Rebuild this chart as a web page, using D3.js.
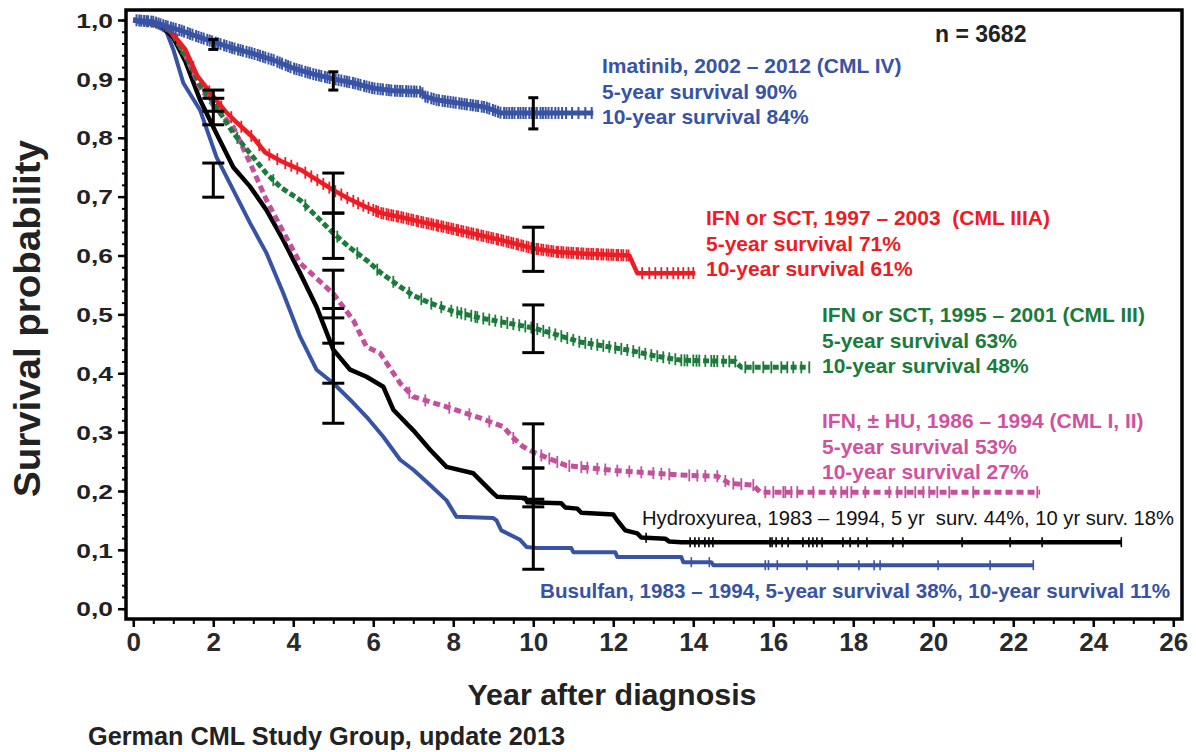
<!DOCTYPE html>
<html>
  <head>
    <meta charset="utf-8" />
    <title>CML survival</title>
    <script type="text/javascript" src="https://d3js.org/d3.v7.min.js"></script>
    <style>
      body { margin: 0; background: #fff; }
      text { font-family: "Liberation Sans", Arial, sans-serif; white-space: pre; }
    </style>
  </head>
  <body>
    <div id="chart"></div>
    <script>
// ---- data ----
const xTicks = [0, 2, 4, 6, 8, 10, 12, 14, 16, 18, 20, 22, 24, 26];
const yTicks = [0, 0.1, 0.2, 0.3, 0.4, 0.5, 0.6, 0.7, 0.8, 0.9, 1.0];

// [year, survival] points along each curve
const imatinib = [[0,1],[0.5,0.997],[0.8,0.99],[1.2,0.982],[1.6,0.972],[2,0.963],[2.5,0.952],[3,0.943],[3.5,0.932],[4,0.918],[4.5,0.908],[5,0.9],[5.5,0.893],[6,0.884],[6.5,0.88],[7.2,0.878],[7.3,0.87],[7.6,0.864],[8.2,0.858],[8.8,0.852],[9.2,0.842],[11.5,0.842]];
const ifnSct97 = [[0,1],[0.8,0.99],[1,0.975],[1.3,0.95],[1.6,0.905],[2,0.87],[2.3,0.845],[2.6,0.825],[3,0.8],[3.3,0.775],[3.7,0.76],[4.2,0.745],[4.6,0.728],[5,0.711],[5.4,0.696],[5.8,0.683],[6.2,0.672],[6.7,0.665],[7.2,0.657],[7.8,0.648],[8.5,0.637],[9.2,0.626],[10,0.612],[10.6,0.606],[11.3,0.603],[12.4,0.6],[12.5,0.585],[12.6,0.57],[14.05,0.57]];
const ifnSct95 = [[0,1],[0.8,0.99],[1,0.975],[1.3,0.94],[1.67,0.89],[2,0.86],[2.5,0.808],[2.9,0.775],[3.33,0.739],[3.7,0.715],[4.17,0.694],[4.6,0.665],[5,0.638],[5.4,0.614],[5.83,0.592],[6.2,0.57],[6.67,0.547],[7,0.532],[7.42,0.519],[8,0.505],[8.67,0.494],[9.3,0.486],[10,0.477],[10.6,0.465],[11.17,0.453],[11.8,0.446],[12.4,0.439],[13,0.43],[13.7,0.422],[15.05,0.42],[15.2,0.41],[16.9,0.41]];
const ifnHu = [[0,1],[0.8,0.99],[1,0.975],[1.3,0.94],[1.67,0.885],[2,0.855],[2.5,0.818],[2.9,0.76],[3.33,0.694],[3.75,0.64],[4.17,0.587],[4.6,0.56],[5,0.535],[5.5,0.49],[5.83,0.445],[6.17,0.434],[6.67,0.383],[7,0.36],[7.83,0.343],[8.67,0.324],[9.25,0.309],[9.5,0.29],[9.75,0.275],[10,0.266],[10.83,0.243],[12,0.235],[13.67,0.227],[14.6,0.225],[14.9,0.213],[15.5,0.21],[15.67,0.198],[22.67,0.198]];
const hydroxyurea = [[0,1],[0.7,0.99],[1,0.97],[1.3,0.93],[1.67,0.864],[2.08,0.807],[2.5,0.75],[2.92,0.717],[3.33,0.677],[3.75,0.626],[4.17,0.57],[4.58,0.513],[5,0.44],[5.42,0.406],[5.83,0.394],[6.25,0.377],[6.5,0.338],[7,0.303],[7.42,0.27],[7.83,0.241],[8.5,0.23],[9,0.196],[9.1,0.19],[9.8,0.188],[9.85,0.181],[10.7,0.179],[10.8,0.172],[11.1,0.17],[11.2,0.163],[12.0,0.16],[12.1,0.15],[12.3,0.133],[12.6,0.128],[12.7,0.121],[13.3,0.119],[13.4,0.114],[13.7,0.113],[24.7,0.113]];
const busulfan = [[0,1],[0.6,0.99],[0.83,0.98],[1,0.95],[1.25,0.893],[1.67,0.847],[2.08,0.767],[2.5,0.711],[2.92,0.655],[3.33,0.604],[3.75,0.536],[4.17,0.462],[4.58,0.406],[5,0.383],[5.42,0.355],[5.83,0.326],[6.25,0.292],[6.67,0.253],[7,0.236],[7.42,0.21],[7.83,0.184],[8.08,0.156],[9,0.154],[9.08,0.15],[9.2,0.133],[9.67,0.117],[9.83,0.105],[10.1,0.103],[10.95,0.103],[11.0,0.096],[12.05,0.096],[12.1,0.088],[13.7,0.088],[13.75,0.079],[14.45,0.079],[14.5,0.074],[22.5,0.074]];

// censoring times
const imatinibCens = [0.08,0.15,0.2,0.27,0.33,0.37,0.45,0.5,0.57,0.63,0.68,0.75,0.81,0.86,0.94,1.0,1.06,1.15,1.21,1.27,1.36,1.42,1.48,1.57,1.63,1.7,1.76,1.85,1.91,1.97,2.06,2.12,2.18,2.27,2.33,2.41,2.47,2.53,2.62,2.68,2.74,2.83,2.9,2.96,3.03,3.11,3.17,3.24,3.3,3.38,3.45,3.51,3.6,3.66,3.72,3.81,3.87,3.93,4.02,4.08,4.15,4.21,4.3,4.36,4.42,4.5,4.57,4.64,4.7,4.79,4.85,4.91,5.0,5.06,5.13,5.2,5.28,5.34,5.4,5.49,5.55,5.62,5.68,5.77,5.83,5.9,5.97,6.03,6.11,6.18,6.24,6.33,6.39,6.45,6.54,6.6,6.67,6.73,6.82,6.88,6.95,7.02,7.08,7.17,7.23,7.3,7.36,7.45,7.51,7.58,7.64,7.73,7.79,7.86,7.93,8.0,8.06,8.15,8.21,8.28,8.34,8.43,8.49,8.56,8.62,8.71,8.77,8.84,8.9,8.99,9.05,9.12,9.18,9.27,9.33,9.4,9.47,9.53,9.62,9.68,9.75,9.81,9.9,9.96,10.03,10.09,10.18,10.24,10.31,10.38,10.46,10.55,10.63,10.72,10.82,10.97,11.13,11.3,11.46];
const ifnSct97Cens = [1.1,1.5,1.9,2.2,2.45,2.7,2.95,3.15,3.4,3.6,3.8,3.95,4.1,4.3,4.45,4.6,4.75,4.9,5.05,5.2,5.35,5.5,5.62,5.75,5.88,6.0,6.07,6.12,6.2,6.25,6.33,6.38,6.45,6.5,6.58,6.62,6.7,6.75,6.83,6.88,6.95,7.0,7.08,7.12,7.2,7.25,7.33,7.38,7.45,7.5,7.58,7.62,7.7,7.75,7.83,7.88,7.95,8.0,8.08,8.12,8.2,8.25,8.33,8.38,8.45,8.5,8.58,8.62,8.7,8.75,8.83,8.88,8.95,9.0,9.08,9.12,9.2,9.25,9.33,9.38,9.45,9.5,9.58,9.62,9.7,9.75,9.83,9.88,9.95,10.0,10.08,10.12,10.2,10.25,10.33,10.38,10.45,10.5,10.58,10.62,10.7,10.75,10.83,10.88,10.95,11.0,11.08,11.12,11.2,11.25,11.33,11.38,11.45,11.5,11.58,11.62,11.7,11.75,11.83,11.88,11.95,12.0,12.08,12.12,12.2,12.25,12.33,12.38,12.72,12.9,13.05,13.2,13.35,13.5,13.62,13.75,13.88,14.0];
const ifnSct95Cens = [1.2,1.8,2.6,3.5,4.3,5.1,5.6,6.1,6.5,6.9,7.2,7.45,7.7,7.95,8.1,8.2,8.3,8.45,8.55,8.6,8.75,8.9,9.05,9.2,9.35,9.5,9.65,9.8,9.95,10.1,10.25,10.4,10.55,10.7,10.85,11.0,11.15,11.3,11.45,11.6,11.75,11.9,12.05,12.2,12.35,12.5,12.65,12.8,12.95,13.1,13.25,13.4,13.55,13.7,13.78,13.85,14.0,14.08,14.15,14.3,14.45,14.52,14.6,14.75,14.9,15.05,15.3,15.5,15.75,15.95,16.2,16.35,16.5,16.7,16.9];
const ifnHuCens = [6.9,7.3,7.9,8.4,8.9,9.5,10.2,10.4,10.6,10.9,11.2,11.35,11.6,11.8,12.1,12.4,12.7,13.0,13.2,13.4,13.9,14.1,14.3,14.6,14.8,15.0,15.2,15.5,15.8,16.0,16.25,16.3,16.45,16.6,17.0,17.5,17.7,17.85,17.95,18.3,18.9,19.1,19.3,19.55,19.75,19.9,20.1,20.4,21.0,22.6];
const hydroxyureaCens = [12.82,13.92,14.04,14.14,14.29,14.39,14.49,15.92,15.97,16.07,16.22,16.37,16.74,16.89,16.99,17.09,17.22,17.74,17.92,18.12,18.34,18.99,19.24,20.72,21.92,22.72,24.7];
const busulfanCens = [13.95,14.4,15.8,15.88,16.1,16.84,17.62,18.14,18.52,18.67,20.12,21.42,22.5];

// 95% CI bars [year, low, high]
const imatinibCI = [[2,0.95,0.967],[5,0.881,0.912],[10,0.815,0.868]];
const otherCI = [[2,0.845,0.881],[2,0.822,0.867],[2,0.699,0.757],
  [5,0.672,0.74],[5,0.595,0.672],[5,0.494,0.575],[5,0.383,0.51],[5,0.315,0.451],
  [10,0.573,0.648],[10,0.435,0.516],[10,0.239,0.314],[10,0.173,0.239],[10,0.067,0.186]];

const imatinibLabel = ["Imatinib, 2002 – 2012 (CML IV)", "5-year survival 90%", "10-year survival 84%"];
const ifnSct97Label = ["IFN or SCT, 1997 – 2003  (CML IIIA)", "5-year survival 71%", "10-year survival 61%"];
const ifnSct95Label = ["IFN or SCT, 1995 – 2001 (CML III)", "5-year survival 63%", "10-year survival 48%"];
const ifnHuLabel = ["IFN, ± HU, 1986 – 1994 (CML I, II)", "5-year survival 53%", "10-year survival 27%"];
const hydroxyureaLabel = "Hydroxyurea, 1983 – 1994, 5 yr  surv. 44%, 10 yr surv. 18%";
const busulfanLabel = "Busulfan, 1983 – 1994, 5-year survival 38%, 10-year survival 11%";

// ---- drawing ----
const W = 1196, H = 752;
const BLUE = "#3953a4", RED = "#ed1c24", GREEN = "#1b7b3b", PINK = "#c4509c", DARK = "#222";

const svg = d3.select("#chart").append("svg").attr("width", W).attr("height", H);

const x = d3.scaleLinear().domain([0, 26]).range([133.3, 1173.3]);
const y = d3.scaleLinear().domain([0, 1]).range([608.7, 20]);

// frame
svg.append("rect").attr("x", 126).attr("y", 10).attr("width", 1056).attr("height", 609)
  .attr("fill", "none").attr("stroke", "#000").attr("stroke-width", 3.5);

// y axis ticks
const yAxis = svg.append("g").attr("transform", "translate(126,0)");
yAxis.append("g").call(d3.axisLeft(y).ticks(50).tickSize(4).tickFormat(""))
  .call(g => g.select(".domain").remove())
  .call(g => g.selectAll("line").attr("stroke-width", 2));
yAxis.append("g").call(d3.axisLeft(y).tickValues(yTicks).tickSize(8))
  .call(g => g.select(".domain").remove())
  .call(g => g.selectAll("line").attr("stroke-width", 2.5))
  .call(g => g.selectAll("text")
    .attr("x", -13 / 1.32).attr("dy", "0.36em").attr("transform", "scale(1.32,1)")
    .attr("font-size", 20).attr("font-weight", "bold").attr("fill", DARK)
    .attr("font-family", "Liberation Sans, Arial, sans-serif")
    .text(d => d3.format(".1f")(d).replace(".", ",")));

// x axis ticks
const xAxis = svg.append("g").attr("transform", "translate(0,619)");
xAxis.append("g").call(d3.axisBottom(x).ticks(52).tickSize(5).tickFormat(""))
  .call(g => g.select(".domain").remove())
  .call(g => g.selectAll("line").attr("stroke-width", 2));
xAxis.append("g").call(d3.axisBottom(x).tickValues(xTicks).tickSize(8).tickPadding(6))
  .call(g => g.select(".domain").remove())
  .call(g => g.selectAll("line").attr("stroke-width", 2.5))
  .call(g => g.selectAll("text")
    .attr("font-size", 26).attr("font-weight", "bold").attr("fill", "#2a2a2a")
    .attr("font-family", "Liberation Sans, Arial, sans-serif"));

// axis titles
svg.append("text").attr("transform", "translate(27,318.5) rotate(-90)")
  .attr("text-anchor", "middle").attr("dominant-baseline", "central")
  .attr("font-size", 37).attr("font-weight", "bold").attr("fill", DARK)
  .attr("textLength", 357).attr("lengthAdjust", "spacingAndGlyphs")
  .text("Survival probability");
svg.append("text").attr("x", 612).attr("y", 705).attr("text-anchor", "middle")
  .attr("font-size", 30).attr("font-weight", "bold").attr("fill", DARK)
  .attr("textLength", 289).attr("lengthAdjust", "spacingAndGlyphs")
  .text("Year after diagnosis");
svg.append("text").attr("x", 88).attr("y", 745)
  .attr("font-size", 25).attr("font-weight", "bold").attr("fill", DARK)
  .attr("textLength", 477).attr("lengthAdjust", "spacingAndGlyphs")
  .text("German CML Study Group, update 2013");

// curves
const line = d3.line().x(d => x(d[0])).y(d => y(d[1]));
const survAt = series => d3.scaleLinear().domain(series.map(d => d[0])).range(series.map(d => d[1])).clamp(true);

const curves = [
  { data: busulfan, cens: busulfanCens, color: BLUE, width: 4, dash: null, tick: 5, tw: 1.6 },
  { data: hydroxyurea, cens: hydroxyureaCens, color: "#000", width: 4.5, dash: null, tick: 5, tw: 1.6 },
  { data: ifnHu, cens: ifnHuCens, color: PINK, width: 5, dash: "7,4", tick: 6, tw: 1.8 },
  { data: ifnSct95, cens: ifnSct95Cens, color: GREEN, width: 5, dash: "6,3", tick: 6, tw: 1.8 },
  { data: ifnSct97, cens: ifnSct97Cens, color: RED, width: 4.5, dash: null, tick: 6, tw: 1.8 },
  { data: imatinib, cens: imatinibCens, color: BLUE, width: 5, dash: null, tick: 6, tw: 2 }
];

const plot = svg.append("g");
curves.forEach(c => {
  const s = survAt(c.data);
  plot.append("path").datum(c.data).attr("d", line)
    .attr("fill", "none").attr("stroke", c.color).attr("stroke-width", c.width)
    .attr("stroke-dasharray", c.dash).attr("stroke-linejoin", "round");
  plot.append("g").selectAll("line").data(c.cens).join("line")
    .attr("x1", d => x(d)).attr("x2", d => x(d))
    .attr("y1", d => y(s(d)) - c.tick)
    .attr("y2", d => y(s(d)) + c.tick)
    .attr("stroke", c.color).attr("stroke-width", c.tw);
});

// CI bars
const drawCI = (rows, half) => {
  const g = plot.append("g").attr("stroke", "#000").attr("stroke-width", 3);
  rows.forEach(r => {
    g.append("line").attr("x1", x(r[0])).attr("x2", x(r[0])).attr("y1", y(r[1])).attr("y2", y(r[2]));
    [r[1], r[2]].forEach(v => g.append("line")
      .attr("x1", x(r[0]) - half).attr("x2", x(r[0]) + half).attr("y1", y(v)).attr("y2", y(v)));
  });
};
drawCI(imatinibCI, 5);
drawCI(otherCI, 11);

// labels
const block = (lines, x0, y0, color) => {
  lines.forEach((s, i) => svg.append("text").attr("x", x0).attr("y", y0 + i * 25.5)
    .attr("font-size", 21).attr("font-weight", "bold").attr("fill", color).text(s));
};
svg.append("text").attr("x", 935).attr("y", 42).attr("font-size", 23).attr("font-weight", "bold")
  .attr("fill", DARK).text("n = 3682");
block(imatinibLabel, 602, 73, BLUE);
block(ifnSct97Label, 706, 225, RED);
block(ifnSct95Label, 822, 322, GREEN);
block(ifnHuLabel, 822, 428, "#d0529f");
svg.append("text").attr("x", 642).attr("y", 525).attr("font-size", 21).attr("fill", "#111")
  .attr("textLength", 532).attr("lengthAdjust", "spacingAndGlyphs").text(hydroxyureaLabel);
svg.append("text").attr("x", 540).attr("y", 598).attr("font-size", 21).attr("font-weight", "bold")
  .attr("fill", BLUE).attr("textLength", 630).attr("lengthAdjust", "spacingAndGlyphs").text(busulfanLabel);
    </script>
  </body>
</html>
